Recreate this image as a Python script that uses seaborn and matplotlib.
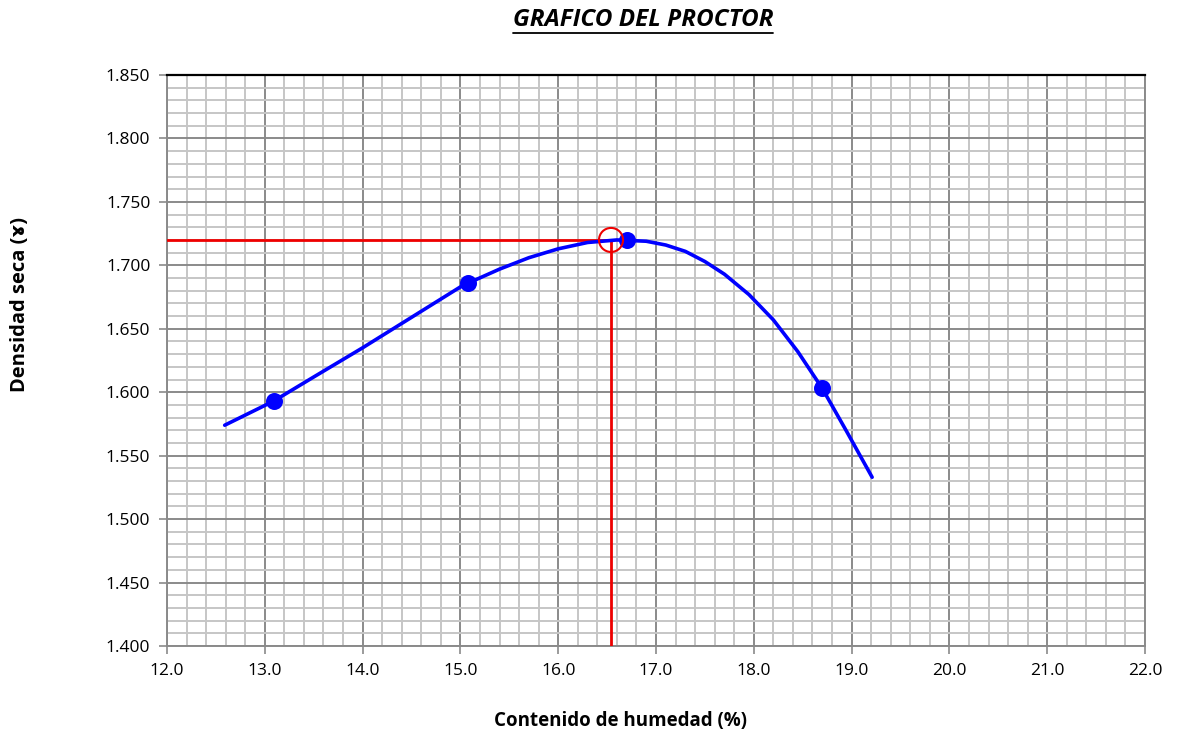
import matplotlib
matplotlib.use("Agg")
import matplotlib.pyplot as plt
from matplotlib.ticker import MultipleLocator, FormatStrFormatter
from matplotlib.lines import Line2D
import seaborn as sns
import pandas as pd

# Measured points (moisture %, dry density)
humedad = [13.09, 15.08, 16.70, 18.70]
densidad = [1.593, 1.686, 1.720, 1.603]

# Trend curve
curva_x = [12.59, 13.09, 13.50, 14.00, 14.50, 15.00, 15.08, 15.40, 15.70, 16.00,
           16.30, 16.60, 16.90, 17.10, 17.30, 17.50, 17.70, 17.95, 18.20, 18.45,
           18.70, 18.95, 19.21]
curva_y = [1.574, 1.593, 1.612, 1.635, 1.659, 1.683, 1.686, 1.697, 1.706, 1.713,
           1.718, 1.720, 1.719, 1.716, 1.711, 1.703, 1.693, 1.677, 1.657, 1.632,
           1.603, 1.569, 1.533]

# Optimum (optimum moisture content, maximum dry density)
och = 16.54
mdd = 1.720

x_min, x_max = 12.0, 22.0
y_min, y_max = 1.400, 1.850

sns.set_theme(style="white")
plt.rcParams['font.family'] = ['Open Sans', 'DejaVu Sans']
plt.rcParams['text.color'] = 'black'
plt.rcParams['axes.labelcolor'] = 'black'

W, H = 1177, 735
fig = plt.figure(figsize=(W / 100, H / 100), dpi=100)
ax = fig.add_axes([167 / W, 1 - 646 / H, (1145 - 167) / W, (646 - 75) / H])

ax.set_xlim(x_min, x_max)
ax.set_ylim(y_min, y_max)
ax.xaxis.set_major_locator(MultipleLocator(1.0))
ax.xaxis.set_minor_locator(MultipleLocator(0.2))
ax.yaxis.set_major_locator(MultipleLocator(0.05))
ax.yaxis.set_minor_locator(MultipleLocator(0.01))
ax.xaxis.set_major_formatter(FormatStrFormatter('%.1f'))
ax.yaxis.set_major_formatter(FormatStrFormatter('%.3f'))

ax.grid(which='minor', color='#c6c6c6', linewidth=1.4, zorder=0)
ax.grid(which='major', color='#8a8a8a', linewidth=1.4, zorder=0)
ax.set_axisbelow(True)

for side in ['left', 'bottom', 'right']:
    ax.spines[side].set_color('#8a8a8a')
    ax.spines[side].set_linewidth(1.4)
ax.spines['top'].set_color('#000000')
ax.spines['top'].set_linewidth(1.6)

ax.tick_params(axis='both', which='major', direction='out', length=6, width=1.2,
               color='#8a8a8a', labelsize=12.5, labelcolor='#000000', pad=6,
               left=True, bottom=True)
ax.tick_params(axis='both', which='minor', length=0)

# Red guide lines to the optimum
sns.lineplot(x=[x_min, och], y=[mdd, mdd], color='#ee0000', linewidth=2.0,
             ax=ax, sort=False, estimator=None, zorder=3)
sns.lineplot(x=[och, och], y=[mdd, y_min], color='#ee0000', linewidth=2.0,
             ax=ax, sort=False, estimator=None, orient='y', zorder=3)

# Trend curve
df_c = pd.DataFrame({'x': curva_x, 'y': curva_y})
sns.lineplot(data=df_c, x='x', y='y', color='#0000ff', linewidth=2.6,
             ax=ax, sort=False, estimator=None, zorder=4)

# Measured points
df_p = pd.DataFrame({'x': humedad, 'y': densidad})
sns.scatterplot(data=df_p, x='x', y='y', color='#0000ff', s=150,
                edgecolor='#0000ff', linewidth=0, ax=ax, zorder=5)

# Optimum marker (open red circle)
ax.scatter([och], [mdd], s=300, facecolors='none', edgecolors='#ee0000',
           linewidths=1.5, zorder=6)

ax.set_xlabel('')
ax.set_ylabel('')
fig.text(620 / W, 1 - 721 / H, 'Contenido de humedad (%)', ha='center',
         va='center', fontsize=13.5, fontweight='bold', color='black')
fig.text(20 / W, 1 - 305 / H, 'Densidad seca (ɤ)', ha='center', va='center',
         rotation=90, fontsize=14.5, fontweight='bold', color='black')

title = fig.text(643 / W, 1 - 20 / H, 'GRAFICO DEL PROCTOR', ha='center',
                 va='center', fontsize=17.5, fontweight='bold', fontstyle='italic',
                 color='black')

fig.canvas.draw()
bb = title.get_window_extent()
y_line = bb.y0 - 1
fig.add_artist(Line2D([bb.x0 / W, bb.x1 / W], [y_line / H, y_line / H],
                      transform=fig.transFigure, color='black', linewidth=1.3))

fig.savefig('out.png', dpi=100)
